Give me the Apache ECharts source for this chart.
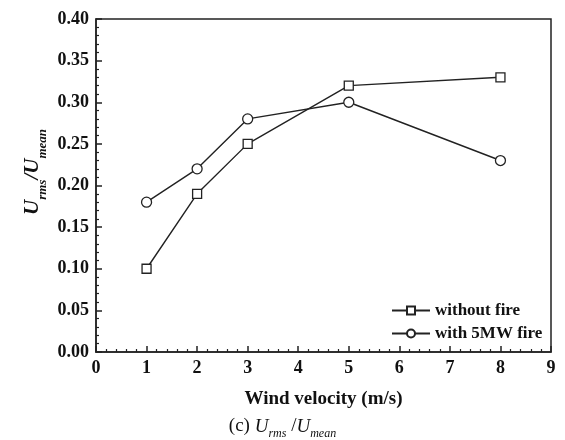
<!DOCTYPE html>
<html>
<head>
<meta charset="utf-8">
<script src="https://cdn.jsdelivr.net/npm/echarts@6/dist/echarts.min.js"></script>
<style>
  html, body { margin: 0; padding: 0; background: #fff; }
  #chart { width: 565px; height: 440px; }
</style>
</head>
<body>
<div id="chart"></div>
<script>
var windSpeed = [1, 2, 3, 5, 8];
var withoutFire = [0.10, 0.19, 0.25, 0.32, 0.33];
var withFire = [0.18, 0.22, 0.28, 0.30, 0.23];
var seriesNames = ['without fire', 'with 5MW fire'];

var font = '"Liberation Serif", "Times New Roman", serif';

function pairs(xs, ys) {
    return xs.map(function (x, i) { return [x, ys[i]]; });
}

var chart = echarts.init(document.getElementById('chart'));
var option = {
    animation: false,
    backgroundColor: '#fff',
    grid: {
        left: 96, right: 14, top: 19, bottom: 88,
        show: true, borderColor: '#222', borderWidth: 1.5
    },
    legend: {
        orient: 'vertical',
        left: 386, top: 297,
        itemWidth: 38, itemHeight: 10, itemGap: 6,
        data: seriesNames,
        textStyle: { fontFamily: font, fontWeight: 'bold', fontSize: 17, color: '#111' }
    },
    xAxis: {
        type: 'value', min: 0, max: 9, interval: 1,
        name: 'Wind velocity (m/s)', nameLocation: 'middle', nameGap: 38,
        nameTextStyle: { fontFamily: font, fontWeight: 'bold', fontSize: 19, color: '#111' },
        axisLine: { lineStyle: { color: '#222', width: 1.5 } },
        axisTick: { inside: true, length: 6, lineStyle: { color: '#222', width: 1.5 } },
        minorTick: { show: true, splitNumber: 5, length: 3, lineStyle: { color: '#222', width: 1.2 } },
        splitLine: { show: false },
        axisLabel: { fontFamily: font, fontWeight: 'bold', fontSize: 18, color: '#111', margin: 7 }
    },
    yAxis: {
        type: 'value', min: 0, max: 0.4, interval: 0.05,
        axisLine: { lineStyle: { color: '#222', width: 1.5 } },
        axisTick: { inside: true, length: 6, lineStyle: { color: '#222', width: 1.5 } },
        minorTick: { show: true, splitNumber: 5, length: 3, lineStyle: { color: '#222', width: 1.2 } },
        splitLine: { show: false },
        axisLabel: {
            fontFamily: font, fontWeight: 'bold', fontSize: 18, color: '#111', margin: 7,
            formatter: function (v) { return v.toFixed(2); }
        }
    },
    graphic: [{
        type: 'text', x: 30, y: 172, rotation: Math.PI / 2,
        style: {
            text: '{u|U}{s|rms}{u|/U}{s|mean}',
            align: 'center', verticalAlign: 'middle',
            rich: {
                u: { fontFamily: font, fontWeight: 'bold', fontStyle: 'italic', fontSize: 21, fill: '#111', lineHeight: 26, verticalAlign: 'bottom' },
                s: { fontFamily: font, fontWeight: 'bold', fontStyle: 'italic', fontSize: 13, fill: '#111', lineHeight: 26, verticalAlign: 'bottom', padding: [0, 0, -6, 0] }
            }
        }
    }, {
        type: 'text', left: 'center', top: 417,
        style: {
            text: '{n|(c) }{i|U}{s|rms}{n| /}{i|U}{s|mean}',
            rich: {
                n: { fontFamily: font, fontSize: 19, fill: '#111', lineHeight: 24, verticalAlign: 'bottom' },
                i: { fontFamily: font, fontSize: 19, fontStyle: 'italic', fill: '#111', lineHeight: 24, verticalAlign: 'bottom' },
                s: { fontFamily: font, fontSize: 12, fontStyle: 'italic', fill: '#111', lineHeight: 24, verticalAlign: 'bottom', padding: [0, 0, -4, 0] }
            }
        }
    }],
    series: [{
        name: seriesNames[0], type: 'line',
        data: pairs(windSpeed, withoutFire),
        symbol: 'rect', symbolSize: 9,
        itemStyle: { color: '#fff', borderColor: '#222', borderWidth: 1.3 },
        lineStyle: { color: '#222', width: 1.4 }
    }, {
        name: seriesNames[1], type: 'line',
        data: pairs(windSpeed, withFire),
        symbol: 'circle', symbolSize: 10,
        itemStyle: { color: '#fff', borderColor: '#222', borderWidth: 1.3 },
        lineStyle: { color: '#222', width: 1.4 }
    }]
};
chart.setOption(option);
</script>
</body>
</html>
